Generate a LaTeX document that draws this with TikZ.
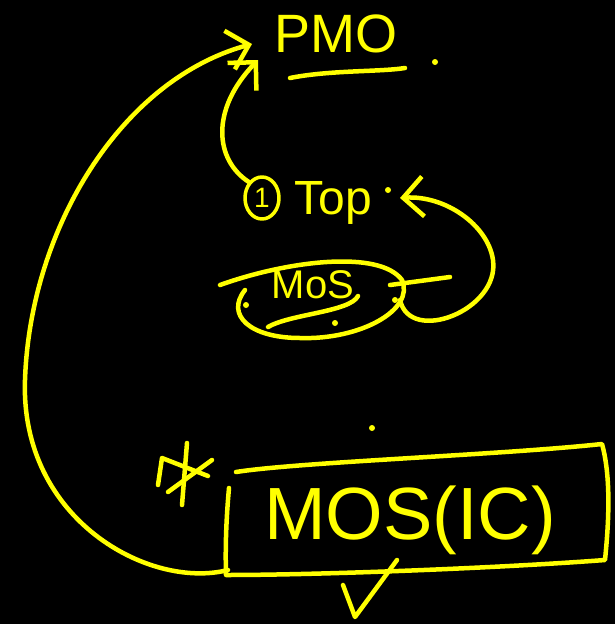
\documentclass[tikz,border=0pt]{standalone}
\usepackage{fontspec}
\setmainfont{Liberation Sans}
\usetikzlibrary{arrows.meta,shapes.geometric}
\definecolor{ink}{HTML}{FFFF00}
\tikzset{
  pen/.style={draw=ink, line width=4.5pt, line cap=round, line join=round},
  txt/.style={text=ink, inner sep=0pt},
  barb/.style={-{Straight Barb[length=20pt,width=40pt,line width=4.5pt]}},
  dotmark/.style={fill=ink, circle, inner sep=0pt, minimum size=6pt}
}
\begin{document}
\begin{tikzpicture}[x=1pt,y=-1pt]
\fill[black] (0,0) rectangle (615,624);
\useasboundingbox (0,0) rectangle (615,624);
% PMO
\node[txt, font=\fontsize{54}{54}\selectfont] (pmo) at (336,34) {PMO};
\coordinate (pmoul1) at (290,78);
\coordinate (pmoul2) at (405,68);
\draw[pen] (pmoul1) .. controls (330,70) and (380,72) .. (pmoul2);
\node[dotmark] (d1) at (435,62) {};
% Top
\node[pen, line width=3.5pt, ellipse, minimum width=34pt, minimum height=42pt, inner sep=0pt, txt, font=\fontsize{28}{28}\selectfont] (one) at (262,198) {1};
\node[txt, font=\fontsize{48}{48}\selectfont] (top) at (333,203) {Top};
\node[dotmark] (d2) at (388,190) {};
% MoS ellipse
\node[txt, font=\fontsize{40}{40}\selectfont] (mos) at (313,285) {MoS};
\coordinate (mosul1) at (268,327);
\coordinate (mosul2) at (358,296);
\draw[pen] (mosul1) .. controls (290,314) and (350,312) .. (mosul2);
\coordinate (ellstart) at (220,285);
\draw[pen] (ellstart) .. controls (290,260) and (380,250) .. (402,280)
  .. controls (415,310) and (360,340) .. (300,338)
  .. controls (250,338) and (225,315) .. (245,290);
\node[dotmark] (d3) at (246,305) {};
\node[dotmark] (d4) at (335,323) {};
\node[dotmark] (d5) at (395,300) {};
\coordinate (stk1) at (390,285);
\coordinate (stk2) at (450,277);
\draw[pen] (stk1) -- (stk2);
% loop from MoS to Top
\coordinate (loopstart) at (400,300);
\coordinate (topin) at (400,198);
\draw[pen, barb] (loopstart) .. controls (410,345) and (500,310) .. (493,260)
  .. controls (488,225) and (445,195) .. (topin);
% small curve Top -> PMO
\coordinate (pmoin1) at (258,60);
\coordinate (pmoin2) at (252,44);
\draw[pen, barb] (one.north west) .. controls (215,160) and (210,110) .. (pmoin1);
% MOS(IC) box
\node[txt, font=\fontsize{74}{74}\selectfont] (ic) at (410,520) {MOS(IC)};
\draw[pen] (236,472) .. controls (300,462) and (500,455) .. (602,444)
  .. controls (612,480) and (608,530) .. (605,560)
  .. controls (500,568) and (320,575) .. (226,575)
  .. controls (225,540) and (227,510) .. (229,488);
% big curve MOS(IC) -> PMO
\coordinate (boxleft) at (228,570);
\draw[pen, barb] (boxleft) .. controls (150,590) and (20,520) .. (25,380)
  .. controls (30,230) and (120,80) .. (pmoin2);
% asterisk
\coordinate (st1) at (187,443);
\coordinate (st2) at (182,505);
\coordinate (st3) at (158,485);
\coordinate (st4) at (162,458);
\coordinate (st5) at (208,476);
\coordinate (st6) at (168,492);
\coordinate (st7) at (212,460);
\draw[pen] (st1) -- (st2);
\draw[pen] (st3) -- (st4) -- (st5);
\draw[pen] (st6) -- (st7);
\node[dotmark] (d6) at (372,428) {};
% checkmark
\coordinate (ck1) at (343,585);
\coordinate (ck2) at (355,617);
\coordinate (ck3) at (397,560);
\draw[pen] (ck1) -- (ck2) -- (ck3);
\end{tikzpicture}
\end{document}
